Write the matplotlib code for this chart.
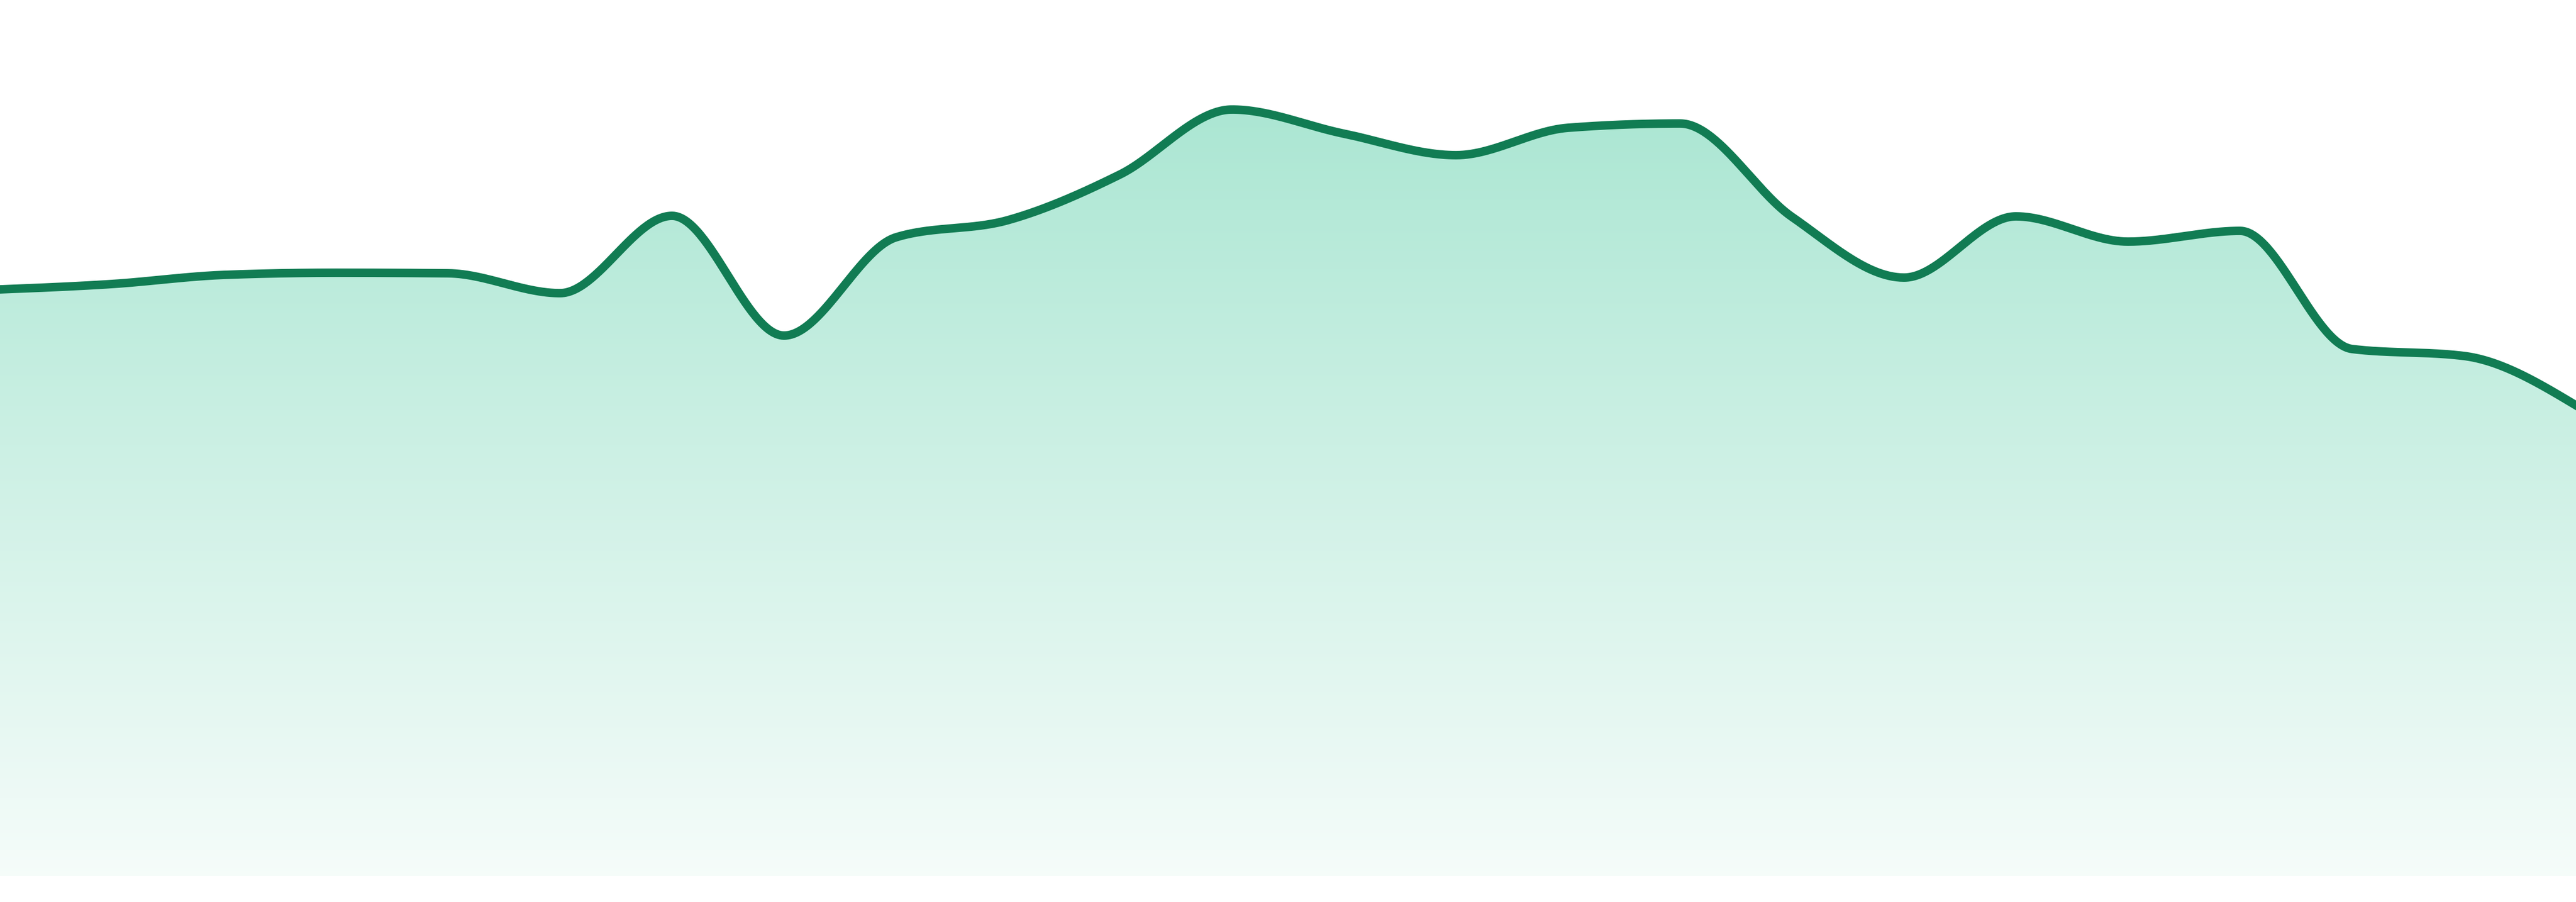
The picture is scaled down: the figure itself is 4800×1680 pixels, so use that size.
import numpy as np
import matplotlib.pyplot as plt
from matplotlib.patches import Polygon

# one value per step, left edge to right edge
values = [54.65, 55.15, 56.0, 56.2, 56.15, 54.3, 61.5, 50.35, 59.5, 61.1,
          65.35, 71.4, 69.15, 67.15, 69.7, 70.1, 61.4, 55.75, 61.45, 59.1,
          60.1, 49.1, 48.45, 43.85]
steps = np.arange(len(values))

line_color = '#117c53'
fill_base = np.array([16, 185, 129]) / 255  # emerald


def monotone_curve(x, y, n=60):
    # same slopes as d3.curveMonotoneX, evaluated as cubic hermite
    x = np.asarray(x, float)
    y = np.asarray(y, float)
    h = np.diff(x)
    s = np.diff(y) / h
    t = np.zeros_like(y)
    for i in range(1, len(y) - 1):
        p = (s[i - 1] * h[i] + s[i] * h[i - 1]) / (h[i - 1] + h[i])
        t[i] = (np.sign(s[i - 1]) + np.sign(s[i])) * min(abs(s[i - 1]), abs(s[i]), 0.5 * abs(p))
    t[0] = (3 * s[0] - t[1]) / 2
    t[-1] = (3 * s[-1] - t[-2]) / 2

    xs, ys = [], []
    u = np.linspace(0, 1, n, endpoint=False)
    for i in range(len(h)):
        h00 = 2 * u**3 - 3 * u**2 + 1
        h10 = u**3 - 2 * u**2 + u
        h01 = -2 * u**3 + 3 * u**2
        h11 = u**3 - u**2
        xs.append(x[i] + u * h[i])
        ys.append(h00 * y[i] + h10 * h[i] * t[i] + h01 * y[i + 1] + h11 * h[i] * t[i + 1])
    xs.append([x[-1]])
    ys.append([y[-1]])
    return np.concatenate(xs), np.concatenate(ys)


cx, cy = monotone_curve(steps, values)

fig = plt.figure(figsize=(16, 5.6), dpi=300)
ax = fig.add_axes([0, 0, 1, 1])
ax.axis('off')

# vertical gradient fill, clipped to the area under the curve
g = np.linspace(0, 1, 512)[:, None]
alpha = 0.04 + (0.35 - 0.04) * g
rgb = 1 - alpha[..., None] * (1 - fill_base)
im = ax.imshow(rgb, extent=[steps[0], steps[-1], 0, cy.max()], origin='lower',
               aspect='auto', interpolation='bilinear', zorder=1)
verts = np.vstack([np.column_stack([cx, cy]), [[cx[-1], 0], [cx[0], 0]]])
area = Polygon(verts, closed=True, facecolor='none', edgecolor='none')
ax.add_patch(area)
im.set_clip_path(area)

ax.plot(cx, cy, color=line_color, lw=3.8, solid_joinstyle='round', zorder=3)

ax.set_xlim(steps[0], steps[-1])
ax.set_ylim(-2.4, 81.6)

fig.savefig('out.png', dpi=300)
